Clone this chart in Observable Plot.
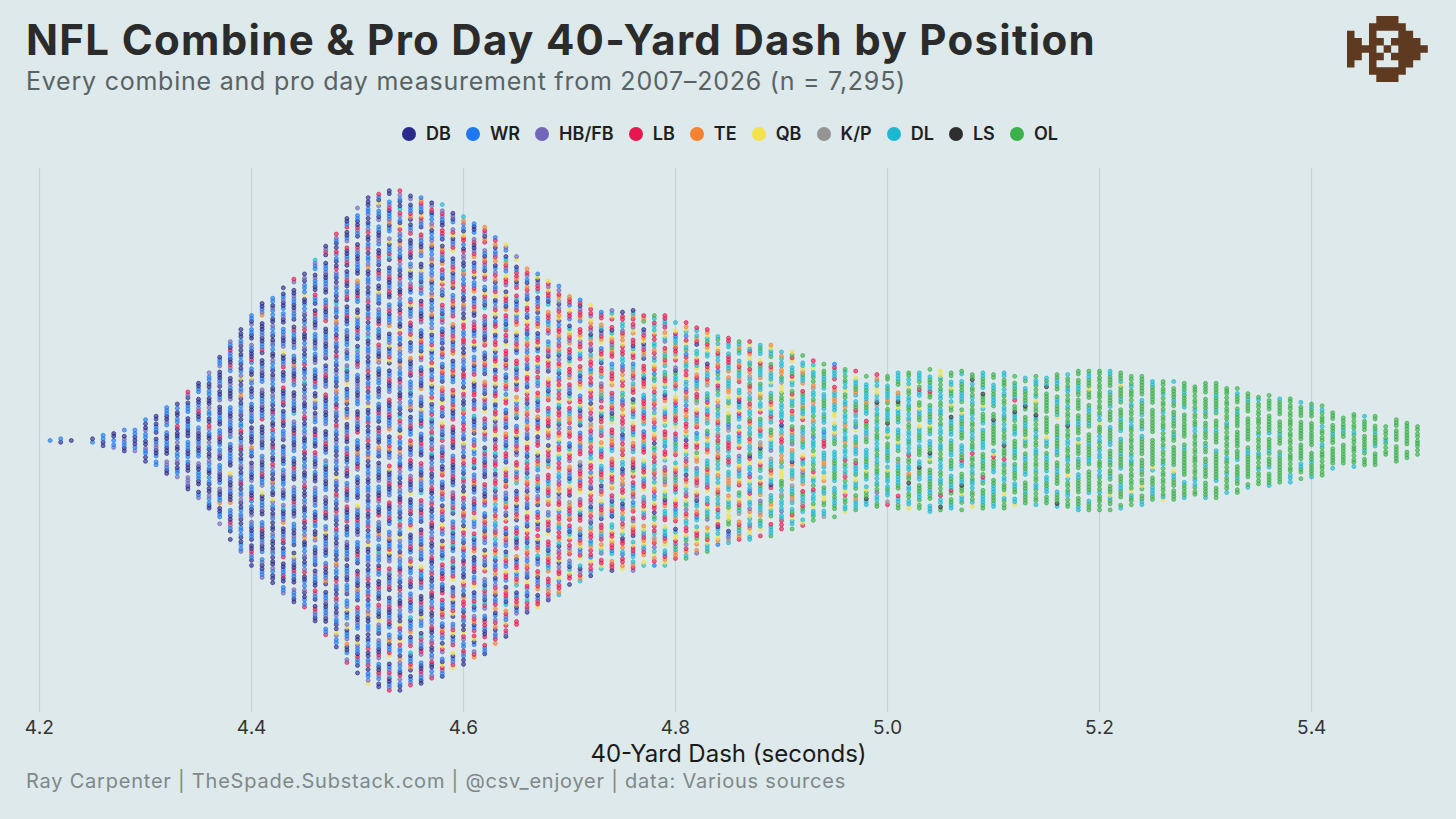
<!DOCTYPE html>
<html><head><meta charset="utf-8">
<script src="https://cdn.jsdelivr.net/npm/d3@7"></script>
<script src="https://cdn.jsdelivr.net/npm/@observablehq/plot@0.6"></script>
<style>
html,body{margin:0;padding:0;background:#dde9ea;}
body{width:1456px;height:819px;overflow:hidden;position:relative;font-family:Inter,sans-serif;}
#head{height:160px;position:relative;}
#title{position:absolute;left:26px;top:13px;font-size:42px;font-weight:700;color:#2b2b2b;white-space:nowrap;line-height:54px;}
#sub{position:absolute;left:26px;top:65px;font-size:25px;color:#5a6364;white-space:nowrap;line-height:32px;}
#legend{position:absolute;left:402px;width:656px;top:122px;height:24px;display:flex;justify-content:space-between;font-size:18px;font-weight:600;color:#1f1f1f;line-height:24px;}
#legend span.i{display:flex;align-items:center;gap:10px;}
#legend i{display:inline-block;width:14px;height:14px;border-radius:50%;}
#logo{position:absolute;left:1346.7px;top:16px;}
#chart{position:absolute;left:0;top:160px;}
#cap{position:absolute;left:26px;top:768px;font-size:20px;color:#7f8889;white-space:nowrap;line-height:26px;}
</style></head><body>
<div id="head"><div id="title"></div><div id="sub"></div><div id="legend"></div><svg id="logo" width="81" height="66"></svg></div>
<div id="chart"></div>
<div id="cap"></div>
<script>
const titleText = "NFL Combine & Pro Day 40-Yard Dash by Position";
const subtitleText = "Every combine and pro day measurement from 2007–2026 (n = 7,295)";
const captionText = "Ray Carpenter | TheSpade.Substack.com | @csv_enjoyer | data: Various sources";
const axisLabel = "40-Yard Dash (seconds)";
const positions = ["DB","WR","HB/FB","LB","TE","QB","K/P","DL","LS","OL"];
const colors = ["#2a2a8c","#1e78f0","#7266ba","#e8174f","#f58231","#f2e24b","#949494","#1cb8d0","#2e2e2e","#3cb04a"];
const xTicks = [4.2,4.4,4.6,4.8,5.0,5.2,5.4];
const seconds = [4.21,4.22,4.23,4.24,4.25,4.26,4.27,4.28,4.29,
4.30,4.31,4.32,4.33,4.34,4.35,4.36,4.37,4.38,4.39,
4.40,4.41,4.42,4.43,4.44,4.45,4.46,4.47,4.48,4.49,
4.50,4.51,4.52,4.53,4.54,4.55,4.56,4.57,4.58,4.59,
4.60,4.61,4.62,4.63,4.64,4.65,4.66,4.67,4.68,4.69,
4.70,4.71,4.72,4.73,4.74,4.75,4.76,4.77,4.78,4.79,
4.80,4.81,4.82,4.83,4.84,4.85,4.86,4.87,4.88,4.89,
4.90,4.91,4.92,4.93,4.94,4.95,4.96,4.97,4.98,4.99,
5.00,5.01,5.02,5.03,5.04,5.05,5.06,5.07,5.08,5.09,
5.10,5.11,5.12,5.13,5.14,5.15,5.16,5.17,5.18,5.19,
5.20,5.21,5.22,5.23,5.24,5.25,5.26,5.27,5.28,5.29,
5.30,5.31,5.32,5.33,5.34,5.35,5.36,5.37,5.38,5.39,
5.40,5.41,5.42,5.43,5.44,5.45,5.46,5.47,5.48,5.49,5.50];
const counts = [1,2,1,0,2,4,5,7,7,
13,15,20,22,29,34,40,49,58,65,
73,80,83,89,94,97,105,113,120,129,
135,141,143,145,145,142,141,138,137,132,
130,126,124,118,114,107,100,97,93,90,
84,82,79,75,76,75,76,73,73,73,
69,69,66,65,61,60,58,58,56,56,
52,52,50,47,45,45,42,41,38,39,
38,40,40,40,42,41,40,41,39,40,
39,40,38,37,38,37,39,39,41,41,
41,41,40,38,38,35,35,35,34,32,
34,34,31,31,28,26,27,25,25,23,
22,21,17,14,16,15,15,9,13,11,9];
// share of each position (percent) in 0.05-second bins
const mixBins = [4.20,4.25,4.30,4.35,4.40,4.45,4.50,4.55,4.60,4.65,4.70,4.75,4.80,4.85,4.90,4.95,5.00,5.05,5.10,5.15,5.20,5.25,5.30,5.35,5.40,5.45,5.50];
const shareDB = [40,45,46,46,44,40,36,30,24,17,10,6,3,1,1,0,0,0,0,0,0,0,0,0,0,0,0];
const shareWR = [60,45,38,35,33,32,31,28,22,16,12,8,5,3,1,1,0,0,0,0,0,0,0,0,0,0,0];
const shareHB = [0,10,14,14,16,17,18,17,16,14,10,8,6,4,2,1,1,0.5,0,0,0,0,0,0,0,0,0];
const shareLB = [0,0,1,3,5,8,10,15,22,29,34,33,26,17,11,6,3,1,1,0.5,1,0,0,0,0,0,0];
const shareTE = [0,0,0,1,1,1,2,4,7,10,13,15,15,14,11,6,3,1,1,0.5,0,0,0,0,0,0,0];
const shareQB = [0,0,1,1,1,1,2,4,6,8,10,11,12,12,10,8,6,5,3,2,2,2,0,1,0,0,0];
const shareKP = [0,0,0,0,0,0,0,0,0,0,1,1,2,3,3,3,2,1,1,1,0,0,0,0,0,0,0];
const shareDL = [0,0,0,0,0,1,1,2,3,6,10,16,26,35,42,46,46,42,36,30,24,18,14,13,12,10,0];
const shareLS = [0,0,0,0,0,0,0,0,0,0,0,0,0,0,1,1,2,2,2,2,1,1,1,0,0,0,0];
const shareOL = [0,0,0,0,0,0,0,0,0,0,0,2,5,11,17,27,36,46,56,64,72,79,85,86,88,90,100];
const shareRows = [shareDB,shareWR,shareHB,shareLB,shareTE,shareQB,shareKP,shareDL,shareLS,shareOL];
// spacing rhythm of stacked dots inside a swarm column (clumps and gaps)
const spacingPatterns = [
 [.85,.85,.85,.85,1.8,.85,.85,.85,.85,.85,.85,2,.85,.85,.85,1.5,.85],
 [1.4,1,1.4,.85,1.4,1.4,.85,.85,1.4,1],
 [.85,.85,.85,.85,.85,.85,2.4,.85,.85,.85,.85,1,.85,.85,2.2,.85,.85,.85,.85]
];

// ---- build dots
function gcd(a,b){return b?gcd(b,a%b):a;}
const dots = [];
seconds.forEach((t,ci)=>{
  const c = counts[ci]; if(!c) return;
  const bin = d3.bisectCenter(mixBins,t);
  const w = shareRows.map(r=>r[bin]);
  const tot = d3.sum(w);
  const exact = w.map(v=>v/tot*c);
  const n = exact.map(Math.floor);
  let left = c-d3.sum(n);
  d3.range(10).sort((a,b)=>(exact[b]-n[b])-(exact[a]-n[a])).slice(0,left).forEach(k=>n[k]++);
  const list = [];
  n.forEach((m,k)=>{for(let i=0;i<m;i++)list.push(k);});
  let stride = Math.max(1,Math.round(c*0.382)+(ci%5));
  while(gcd(stride,c)!==1) stride++;
  const start = (ci*31)%c;
  const order = d3.range(c).map(i=>list[(i*stride+start)%c]);
  // group neighbours into short runs, as same-position dots tend to clump
  const runs = d3.range(0,c,5).flatMap(s=>order.slice(s,s+5).sort((a,b)=>(ci%2?a-b:b-a)));
  const pat = spacingPatterns[ci%3===0?1:(ci%3===1?0:2)];
  const off = [0];
  for(let i=1;i<c;i++) off.push(off[i-1]+pat[(i+ci*7)%pat.length]);
  const span = off[c-1]||1;
  off.forEach((o,i)=>{
    dots.push({t, y:c>1?(o/span-0.5)*(c-1):0, p:positions[runs[i]]});
  });
});

// ---- plot
const chart = Plot.plot({
  width:1456, height:610,
  marginLeft:39, marginRight:39, marginTop:8, marginBottom:58,
  style:{background:"transparent",fontFamily:"Inter,sans-serif"},
  x:{domain:[4.2,5.5]},
  y:{domain:[-78.4,78.4],axis:null},
  color:{domain:positions,range:colors},
  marks:[
    Plot.ruleX(xTicks,{stroke:"#c8d2d4",strokeWidth:1.2}),
    Plot.axisX({ticks:xTicks,tickFormat:d3.format(".1f"),tickSize:0,tickPadding:8,label:null,fontSize:19,fill:"#333"}),
    Plot.dot(dots,{x:"t",y:"y",r:2,fill:"p",stroke:"p",fillOpacity:.62,strokeOpacity:.85,strokeWidth:.8}),
    Plot.text([axisLabel],{frameAnchor:"bottom",dy:49,fontSize:24,fill:"#1a1a1a"})
  ]
});
document.getElementById("chart").append(chart);

// ---- header, legend, caption
const fit=(el,w)=>{el.style.letterSpacing="0px";const r=el.getBoundingClientRect().width;el.style.letterSpacing=((w-r)/(el.textContent.length))+"px";};
const T=document.getElementById("title");T.textContent=titleText;fit(T,1070);
const S=document.getElementById("sub");S.textContent=subtitleText;fit(S,880);
const C=document.getElementById("cap");C.textContent=captionText;fit(C,820);
const L=document.getElementById("legend");
positions.forEach((p,i)=>{const s=document.createElement("span");s.className="i";s.innerHTML=`<i style="background:${colors[i]}"></i><b style="font-weight:600">${p}</b>`;L.append(s);});

// ---- logo
const logoRows=["....###....","...#####...","#..#...##..","##.##.####.","####.#.####","##.##.####.","#..#...##..","...#####...","....###...."];
const svgNS="http://www.w3.org/2000/svg",logo=document.getElementById("logo");
const pathD=logoRows.map((r,j)=>[...r].map((ch,i)=>ch==="#"?`M${i*7.33} ${j*7.33}h7.5v7.5h-7.5z`:"").join("")).join("");
const pth=document.createElementNS(svgNS,"path");pth.setAttribute("d",pathD);pth.setAttribute("fill","#5e3a20");logo.append(pth);
</script>
</body></html>
